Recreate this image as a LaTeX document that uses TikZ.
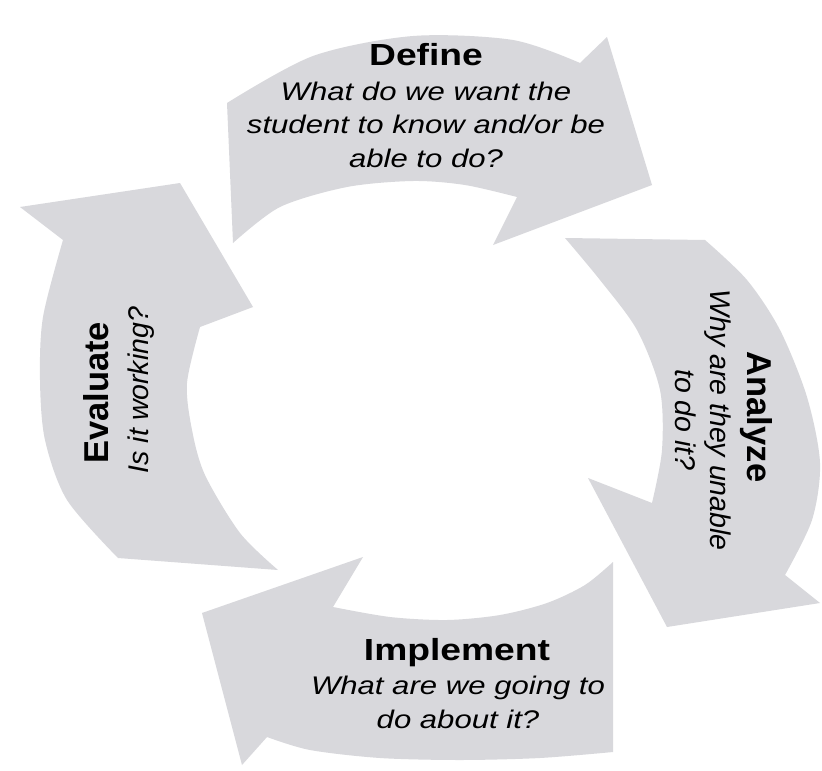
\documentclass[tikz,border=0pt]{standalone}
\usepackage{fontspec}
\setmainfont{Liberation Sans}
\newfontfamily\widesans[FakeStretch=1.22]{Liberation Sans}
\definecolor{cyclegray}{RGB}{216,216,220}
\tikzset{
    cyclearrow/.style={fill=cyclegray, draw=none},
    stagetitle/.style={inner sep=0pt, anchor=base, font=\widesans\bfseries\fontsize{30.5}{35}\selectfont},
    stagequestion/.style={inner sep=0pt, anchor=base, align=center, font=\widesans\itshape\fontsize{25.5}{33.5}\selectfont},
    sidetitle/.style={inner sep=0pt, anchor=base, font=\bfseries\fontsize{34.5}{37}\selectfont},
    sidequestion/.style={inner sep=0pt, anchor=base, align=center, font=\itshape\fontsize{28.5}{35}\selectfont},
}

\begin{document}
\begin{tikzpicture}[x=1pt,y=-1pt]
        \path[fill=white, use as bounding box] (0,0) rectangle (822,771);

        % Define arrow
        \fill[cyclearrow] (227,103)
            -- plot[smooth] coordinates {(227,103) (313,56) (413,36) (513,40) (580,63)}
            -- (607,37) -- (652,185) -- (493,245) -- (517,197)
            -- plot[smooth] coordinates {(517,197) (465,185) (413,181) (347,187) (280,207) (233,243)}
            -- cycle;

        % Analyze arrow
        \fill[cyclearrow] (705,240)
            -- plot[smooth] coordinates {(705,240) (747,280) (780,330) (807,397) (820,463) (812,520) (785,575)}
            -- (820,603) -- (667,627) -- (588,478) -- (652,503)
            -- plot[smooth] coordinates {(652,503) (662,450) (660,390) (637,330) (600,280) (565,238)}
            -- cycle;

        % Implement arrow
        \fill[cyclearrow] (613,752)
            -- plot[smooth] coordinates {(613,752) (540,758) (460,760) (380,758) (310,750) (267,737)}
            -- (242,765) -- (202,613) -- (363,557) -- (333,607)
            -- plot[smooth] coordinates {(333,607) (390,617) (447,620) (500,615) (547,603) (585,585) (613,562)}
            -- cycle;

        % Evaluate arrow
        \fill[cyclearrow] (118,558)
            -- plot[smooth] coordinates {(118,558) (67,500) (45,440) (40,380) (43,317) (63,240)}
            -- (20,207) -- (180,183) -- (253,307) -- (200,327)
            -- plot[smooth] coordinates {(200,327) (187,383) (192,430) (205,475) (240,533) (278,570)}
            -- cycle;

        % base of a question node = its last line
        \path (426,65) node[stagetitle] (define) {Define};
        \path (426,167) node[stagequestion] (define-q) {What do we want the\\student to know and/or be\\able to do?};

        \path (747,417) node[sidetitle, rotate=-90] (analyze) {Analyze};
        \path (675,420) node[sidequestion, rotate=-90] (analyze-q) {Why are they unable\\to do it?};

        \path (457,660) node[stagetitle] (implement) {Implement};
        \path (458,728) node[stagequestion] (implement-q) {What are we going to\\do about it?};

        \path (108,393) node[sidetitle, rotate=90] (evaluate) {Evaluate};
        \path (148,390) node[sidequestion, rotate=90] (evaluate-q) {Is it working?};
\end{tikzpicture}
\end{document}
